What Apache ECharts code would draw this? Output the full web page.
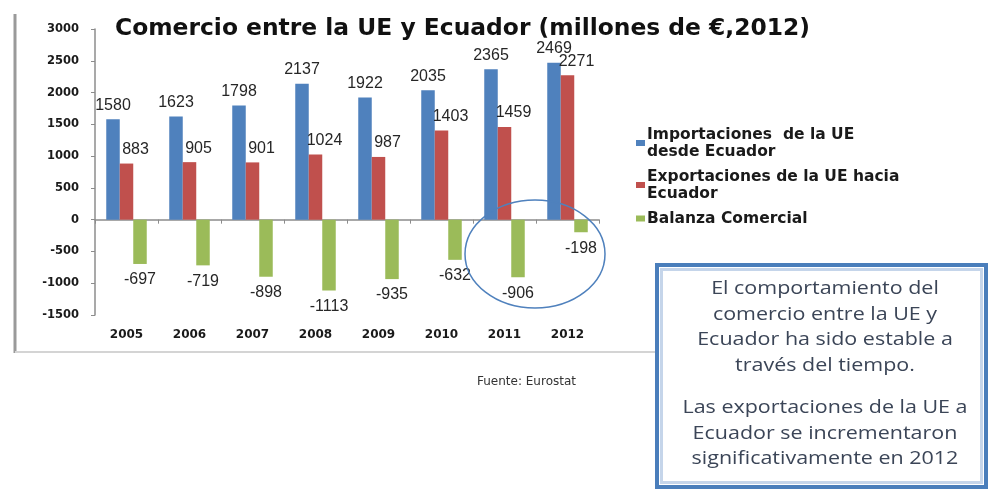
<!DOCTYPE html>
<html>
<head>
<meta charset="utf-8">
<script src="https://cdn.jsdelivr.net/npm/echarts@6/dist/echarts.min.js"></script>
<style>
  html, body { margin: 0; padding: 0; background: #fff; }
  #chart { width: 990px; height: 492px; }
</style>
</head>
<body>
<div id="chart"></div>
<script>
// datos (millones de euros)
const years = ['2005', '2006', '2007', '2008', '2009', '2010', '2011', '2012']
const importaciones = [1580, 1623, 1798, 2137, 1922, 2035, 2365, 2469]
const exportaciones = [883, 905, 901, 1024, 987, 1403, 1459, 2271]
const balanza = [-697, -719, -898, -1113, -935, -632, -906, -198]
const seriesNames = [
  'Importaciones  de la UE\ndesde Ecuador',
  'Exportaciones de la UE hacia\nEcuador',
  'Balanza Comercial'
]
const nota1 = ['El comportamiento del', 'comercio entre la UE y', 'Ecuador ha sido estable a', 'través del tiempo.']
const nota2 = ['Las exportaciones de la UE a', 'Ecuador se incrementaron', 'significativamente en 2012']

const chart = echarts.init(document.getElementById('chart'))

const labelFont = { fontFamily: 'Liberation Sans', fontSize: 16, color: '#262626' }
const axisFont = { fontFamily: 'DejaVu Sans', fontWeight: 'bold', fontSize: 12, color: '#1a1a1a' }

const option = {
  backgroundColor: '#fff',
  animation: false,
  title: {
    text: 'Comercio entre la UE y Ecuador (millones de €,2012)',
    left: 110,
    top: 12,
    textStyle: { fontFamily: 'DejaVu Sans', fontWeight: 'bold', fontSize: 23.4, color: '#111' }
  },
  legend: {
    orient: 'vertical',
    left: 631,
    top: 121,
    itemWidth: 9,
    itemHeight: 6,
    itemGap: 8,
    icon: 'rect',
    data: seriesNames,
    textStyle: { fontFamily: 'DejaVu Sans', fontWeight: 'bold', fontSize: 15.5, lineHeight: 17, color: '#1a1a1a', padding: [0, 0, 0, -3] }
  },
  grid: { left: 95, top: 29, right: 391, bottom: 177 },
  xAxis: [
    {
      type: 'category',
      data: years,
      axisLine: { onZero: true, lineStyle: { color: '#8c8c8c', width: 1.5 } },
      axisTick: { show: true, length: 4, lineStyle: { color: '#8c8c8c' } },
      axisLabel: { show: false }
    },
    {
      type: 'category',
      data: years,
      position: 'bottom',
      axisLine: { show: false },
      axisTick: { show: false },
      axisLabel: Object.assign({ margin: 14 }, axisFont)
    }
  ],
  yAxis: {
    type: 'value',
    min: -1500,
    max: 3000,
    interval: 500,
    axisLine: { show: true, lineStyle: { color: '#8c8c8c', width: 1.5 } },
    axisTick: { show: true, length: 4, lineStyle: { color: '#8c8c8c' } },
    axisLabel: Object.assign({ margin: 16, formatter: v => String(v) }, axisFont, { fontSize: 11.5 }),
    splitLine: { show: false }
  },
  series: [
    {
      name: seriesNames[0],
      type: 'bar',
      data: importaciones,
      barWidth: 13.5,
      barGap: '0%',
      itemStyle: { color: '#4f81bd' },
      label: Object.assign({ show: true, position: 'top', distance: 6 }, labelFont)
    },
    {
      name: seriesNames[1],
      type: 'bar',
      data: exportaciones,
      barWidth: 13.5,
      barGap: '0%',
      itemStyle: { color: '#c0504d' },
      label: Object.assign({ show: true, position: 'top', distance: 6, offset: [9, 0] }, labelFont)
    },
    {
      name: seriesNames[2],
      type: 'bar',
      data: balanza,
      barWidth: 13.5,
      barGap: '0%',
      itemStyle: { color: '#9bbb59' },
      label: Object.assign({ show: true, position: 'bottom', distance: 8 }, labelFont)
    }
  ],
  graphic: [
    // marco del grafico
    { type: 'line', shape: { x1: 15, y1: 14, x2: 15, y2: 353 }, style: { stroke: '#9a9a9a', lineWidth: 3 } },
    { type: 'line', shape: { x1: 15, y1: 352, x2: 946, y2: 352 }, style: { stroke: '#d4d4d4', lineWidth: 2 } },
    // circulo 2011-2012
    { type: 'ellipse', shape: { cx: 535, cy: 254, rx: 70, ry: 54 }, style: { fill: 'none', stroke: '#4f81bd', lineWidth: 1.5 }, z: 20 },
    {
      type: 'text', left: 477, top: 376,
      style: { text: 'Fuente: Eurostat', font: '12px "DejaVu Sans"', fill: '#333' }
    },
    // cuadro de texto
    { type: 'rect', shape: { x: 657, y: 265, width: 329, height: 222 }, style: { fill: '#fff', stroke: '#4a7ebb', lineWidth: 4 }, z: 30 },
    { type: 'rect', shape: { x: 661.5, y: 269.5, width: 320, height: 213 }, style: { fill: 'none', stroke: '#c5d5ea', lineWidth: 3 }, z: 31 },
    {
      type: 'text', x: 825, y: 276, scaleX: 1.13, z: 32,
      style: { text: nota1.join('\n'), font: '19px "Open Sans"', lineHeight: 25.5, fill: '#3b4557', align: 'center', verticalAlign: 'top' }
    },
    {
      type: 'text', x: 825, y: 395, scaleX: 1.13, z: 32,
      style: { text: nota2.join('\n'), font: '19px "Open Sans"', lineHeight: 25.5, fill: '#3b4557', align: 'center', verticalAlign: 'top' }
    }
  ]
}

chart.setOption(option)
</script>
</body>
</html>
